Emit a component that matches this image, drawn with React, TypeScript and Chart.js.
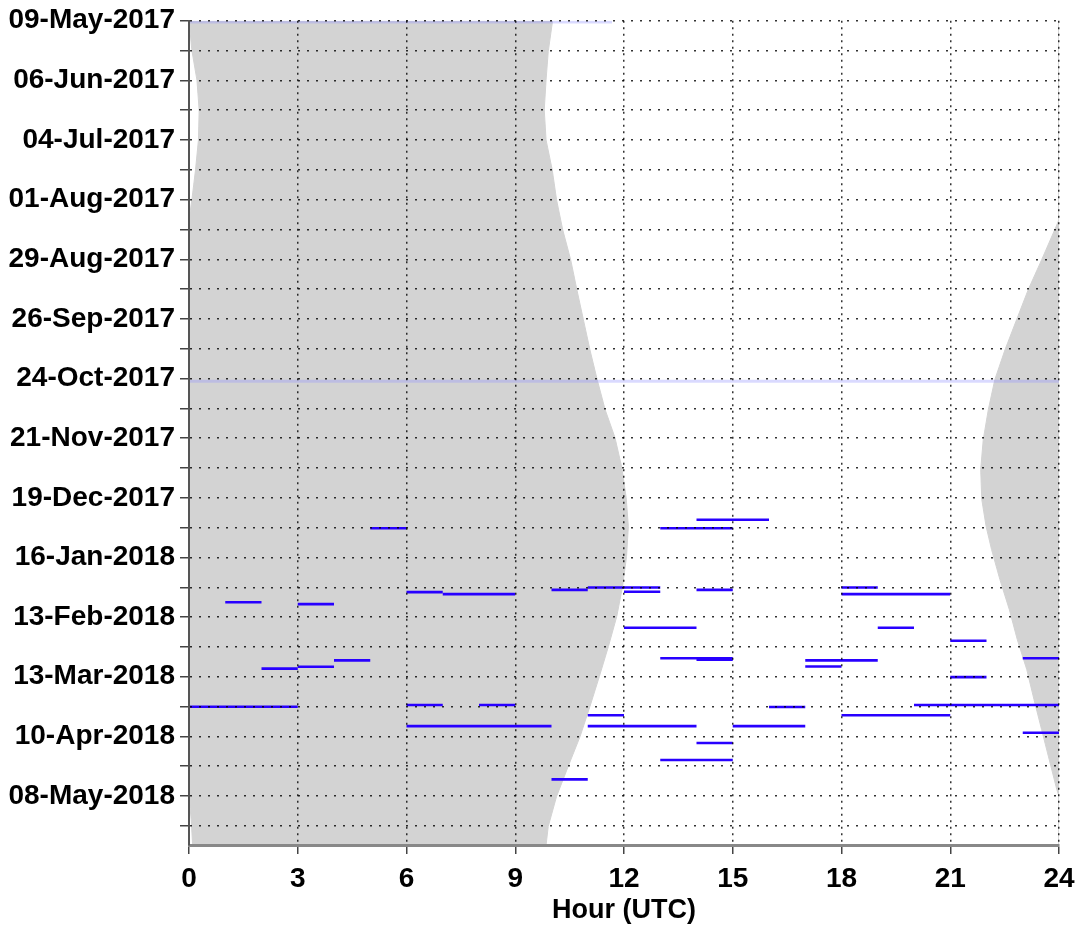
import React, { useEffect, useRef } from 'react';
import { Chart, registerables } from 'chart.js';

Chart.register(...registerables);

// Day 0 = 09-May-2017; y axis runs in days from that date
const dayMax = 387;

const yTickDays = [0, 14, 28, 42, 56, 70, 84, 98, 112, 126, 140, 154, 168, 182, 196, 210, 224, 238, 252, 266, 280, 294, 308, 322, 336, 350, 364, 378];
const yTickLabels = [
  '09-May-2017', '', '06-Jun-2017', '', '04-Jul-2017', '', '01-Aug-2017', '',
  '29-Aug-2017', '', '26-Sep-2017', '', '24-Oct-2017', '', '21-Nov-2017', '',
  '19-Dec-2017', '', '16-Jan-2018', '', '13-Feb-2018', '', '13-Mar-2018', '',
  '10-Apr-2018', '', '08-May-2018', '',
];

const xTickValues = [0, 3, 6, 9, 12, 15, 18, 21, 24];
const xTickLabels = ['0', '3', '6', '9', '12', '15', '18', '21', '24'];

// Sunrise (end of night) in UTC hours, by day
const sunriseDays = [0, 14.5, 27.8, 41.9, 56, 70, 84.1, 98.2, 112.3, 126.3, 140.4, 154.5, 168.5, 182.6, 195.7, 209.8, 223.9, 237.5, 251.6, 265.6, 279.7, 293.8, 307.9, 322, 336, 350.1, 364.2, 378.3, 387];
const sunriseHours = [10.03, 9.91, 9.85, 9.8, 9.85, 10.02, 10.14, 10.31, 10.53, 10.7, 10.88, 11.06, 11.26, 11.48, 11.75, 11.94, 12.06, 12.12, 12.07, 11.96, 11.8, 11.57, 11.32, 11.06, 10.79, 10.46, 10.14, 9.91, 9.85];

// Sunset (start of night) in UTC hours (values above 24 fall after midnight)
const sunsetDays = [0, 14, 28, 42, 56, 70, 84, 93.4, 98.2, 112.3, 126.3, 140.4, 154.5, 168.5, 182.6, 196.7, 210.7, 224.8, 237.5, 248.3, 262.4, 276.5, 290.6, 304.6, 318.7, 332.8, 346.9, 361, 364.2, 375, 387];
const sunsetHours = [24.0, 24.08, 24.22, 24.28, 24.26, 24.18, 24.08, 24.0, 23.88, 23.52, 23.15, 22.83, 22.51, 22.23, 22.05, 21.91, 21.84, 21.87, 21.99, 22.14, 22.37, 22.63, 22.85, 23.11, 23.31, 23.52, 23.73, 23.94, 24.0, 24.06, 24.1];

// Observation segments: day, start hour, end hour
const segDay = [238.3, 234.3, 238.3, 267.2, 266.1, 268.1, 267.2, 266.1, 268.3, 269.2, 269.2, 273.0, 273.9, 285.0, 285.0, 291.1, 299.3, 300.0, 300.3, 300.3, 303.2, 299.3, 304.2, 303.3, 308.2, 322.1, 321.3, 321.3, 321.3, 322.2, 326.1, 326.1, 331.2, 331.2, 331.2, 334.3, 339.1, 347.1, 356.2];
const segStart = [5, 14, 13, 10, 11, 12, 14, 18, 6, 7, 18, 1, 3, 12, 19, 21, 13, 14, 4, 17, 17, 23, 2, 3, 21, 0, 6, 8, 20, 16, 11, 18, 6, 11, 15, 23, 14, 13, 10];
const segEnd = [6, 16, 15, 11, 13, 13, 15, 19, 7, 9, 21, 2, 4, 14, 20, 22, 15, 15, 5, 19, 18, 24, 3, 4, 22, 3, 7, 9, 24, 17, 12, 21, 10, 14, 17, 24, 15, 15, 11];

// Faint full-width marker lines
const faintDay = [0.6, 169.3];
const faintStart = [0, 0];
const faintEnd = [11.67, 24];

const FONT = 'Liberation Sans, Arial, Helvetica, sans-serif';

export default function App() {
  const ref = useRef<HTMLCanvasElement | null>(null);

  useEffect(() => {
    if (!ref.current) return;

    const leftPoly = [
      ...sunriseDays.map((d, i) => ({ x: sunriseHours[i], y: d })),
      ...sunsetDays.map((d, i) => ({ x: Math.max(0, sunsetHours[i] - 24), y: d })).reverse(),
    ];
    const rightPoly = sunsetDays.map((d, i) => ({ x: Math.min(24, sunsetHours[i]), y: d }));

    const segSets = segDay.map((d, i) => ({
      data: [{ x: segStart[i], y: d }, { x: segEnd[i], y: d }],
      borderColor: '#2800ff',
      borderWidth: 2.6,
      pointRadius: 0,
      fill: false,
      order: 1,
      borderCapStyle: 'butt' as const,
    }));
    const faintSets = faintDay.map((d, i) => ({
      data: [{ x: faintStart[i], y: d }, { x: faintEnd[i], y: d }],
      borderColor: 'rgba(150,150,255,0.35)',
      borderWidth: 3,
      pointRadius: 0,
      fill: false,
      order: 2,
    }));
    const graySets = [leftPoly, rightPoly].map((pts) => ({
      data: pts,
      borderColor: '#d3d3d3',
      borderWidth: 1,
      backgroundColor: '#d3d3d3',
      pointRadius: 0,
      fill: 'shape' as const,
      tension: 0,
      order: 3,
    }));

    const chart = new Chart(ref.current, {
      type: 'line',
      data: { datasets: [...segSets, ...faintSets, ...graySets] as any },
      options: {
        animation: false,
        responsive: true,
        maintainAspectRatio: false,
        layout: { padding: { top: 20.7, right: 21, left: 0, bottom: 0 } },
        plugins: { legend: { display: false }, tooltip: { enabled: false } },
        scales: {
          x: {
            type: 'linear',
            min: 0,
            max: 24,
            position: 'bottom',
            afterBuildTicks: (s: any) => { s.ticks = xTickValues.map((v) => ({ value: v })); },
            afterFit: (s: any) => { s.height = 82; s.paddingLeft = 0; s.paddingRight = 0; },
            ticks: {
              autoSkip: false,
              maxRotation: 0,
              padding: 8,
              color: '#000',
              font: { family: FONT, size: 28, weight: 'bold' },
              callback: (v: any) => xTickLabels[xTickValues.indexOf(Number(v))] ?? '',
            },
            grid: {
              z: 1,
              color: 'rgba(0,0,0,0.8)',
              lineWidth: 1.5,
              tickLength: 9,
              tickColor: '#444',
              tickWidth: 1.5,
            },
            border: { display: true, color: '#888', width: 3, dash: [2, 4.5], z: 2 },
            title: {
              display: true,
              text: 'Hour (UTC)',
              color: '#000',
              font: { family: FONT, size: 27, weight: 'bold' },
              padding: { top: 0, bottom: 0 },
            },
          },
          y: {
            type: 'linear',
            min: 0,
            max: dayMax,
            reverse: true,
            afterBuildTicks: (s: any) => { s.ticks = yTickDays.map((v) => ({ value: v })); },
            afterFit: (s: any) => { s.width = 189; s.paddingTop = 0; s.paddingBottom = 0; },
            ticks: {
              autoSkip: false,
              padding: 5,
              color: '#000',
              font: { family: FONT, size: 28, weight: 'bold' },
              callback: (v: any) => yTickLabels[yTickDays.indexOf(Number(v))] ?? '',
            },
            grid: {
              z: 1,
              color: 'rgba(0,0,0,0.8)',
              lineWidth: 1.5,
              tickLength: 9,
              tickColor: '#444',
              tickWidth: 1.5,
            },
            border: { display: true, color: '#555', width: 2, dash: [2, 7], z: 2 },
          },
        },
      },
    });
    return () => chart.destroy();
  }, []);

  return (
    <div style={{ position: 'absolute', left: 0, top: 0, width: 1080, height: 927, background: '#fff' }}>
      <canvas ref={ref} />
    </div>
  );
}
